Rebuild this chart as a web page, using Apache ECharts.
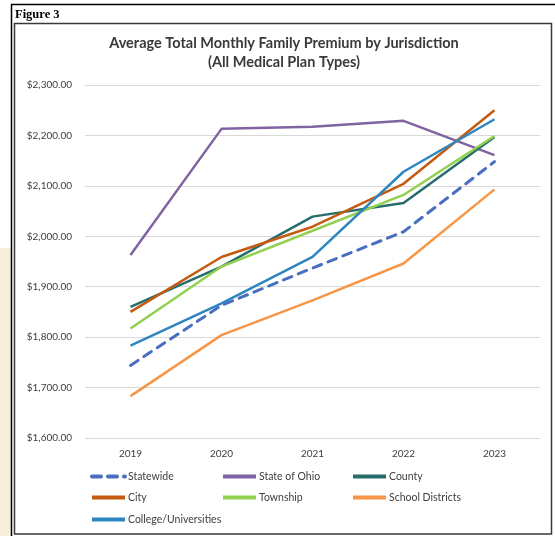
<!DOCTYPE html>
<html>
<head>
<meta charset="utf-8">
<title>Average Total Monthly Family Premium by Jurisdiction</title>
<script src="https://cdn.jsdelivr.net/npm/echarts@6/dist/echarts.min.js"></script>
<style>
  html, body { margin: 0; padding: 0; background: #ffffff; }
  #chart { width: 555px; height: 536px; }
</style>
</head>
<body>
<div id="chart"></div>
<script>
// Plan years on the category axis
const years = ['2019', '2020', '2021', '2022', '2023'];

// Average total monthly family premium by jurisdiction (USD)
const statewide        = [1744, 1863, 1937, 2009, 2148];
const stateOfOhio      = [1963, 2213, 2217, 2229, 2161];
const county           = [1860, 1940, 2039, 2066, 2197];
const city             = [1850, 1959, 2019, 2104, 2250];
const township         = [1817, 1940, 2011, 2082, 2199];
const schoolDistricts  = [1683, 1804, 1873, 1946, 2093];
const colleges         = [1783, 1867, 1959, 2128, 2232];

// Value axis ticks
const yMin = 1600, yMax = 2300, yStep = 100;

const seriesDefs = [
  { name: 'Statewide',            data: statewide,       color: '#4a6fc0', dashed: true },
  { name: 'State of Ohio',        data: stateOfOhio,     color: '#8064a2' },
  { name: 'County',               data: county,          color: '#276d6b' },
  { name: 'City',                 data: city,            color: '#c55a11' },
  { name: 'Township',             data: township,        color: '#92d050' },
  { name: 'School Districts',     data: schoolDistricts, color: '#f79646' },
  { name: 'College/Universities', data: colleges,        color: '#2e86c1' }
];

const FONT = 'Lato, "Open Sans", sans-serif';

const money = v => '$' + v.toLocaleString('en-US', { minimumFractionDigits: 2, maximumFractionDigits: 2 });

// Legend slots laid out in three columns
const legendSlots = [
  [90, 471], [221, 471], [351, 471],
  [90, 492], [221, 492], [351, 492],
  [90, 514]
];

const legends = seriesDefs.map((s, i) => ({
  data: [s.name],
  left: legendSlots[i][0],
  top: legendSlots[i][1],
  padding: 0,
  itemWidth: 33,
  itemHeight: 12,
  itemGap: 0,
  selectedMode: false,
  textStyle: { fontFamily: FONT, fontSize: 10.5, color: '#404040', padding: [0, 0, 0, -2] },
  lineStyle: { width: 4, cap: s.dashed ? 'round' : 'butt' },
  itemStyle: { opacity: 0 }
}));

const chart = echarts.init(document.getElementById('chart'), null, { renderer: 'canvas' });

chart.setOption({
  animation: false,
  backgroundColor: '#ffffff',
  title: {
    text: 'Average Total Monthly Family Premium by Jurisdiction\n(All Medical Plan Types)',
    left: 284,
    textAlign: 'center',
    top: 34,
    padding: 0,
    textStyle: {
      fontFamily: FONT,
      fontWeight: 'bold',
      fontSize: 14.5,
      lineHeight: 19,
      color: '#3a3a3a'
    }
  },
  legend: legends,
  grid: { left: 85, right: 15, top: 85, bottom: 98 },
  xAxis: {
    type: 'category',
    data: years,
    boundaryGap: true,
    axisLine: { show: false },
    axisTick: { show: false },
    axisLabel: { fontFamily: FONT, fontSize: 10, color: '#404040', margin: 11 }
  },
  yAxis: {
    type: 'value',
    min: yMin,
    max: yMax,
    interval: yStep,
    axisLine: { show: false },
    axisTick: { show: false },
    axisLabel: { fontFamily: FONT, fontSize: 10, color: '#404040', margin: 13, formatter: money },
    splitLine: { lineStyle: { color: '#d9d9d9', width: 1 } }
  },
  series: seriesDefs.map(s => ({
    name: s.name,
    type: 'line',
    data: s.data,
    symbol: 'none',
    color: s.color,
    lineStyle: {
      color: s.color,
      width: s.dashed ? 3 : 2.5,
      type: s.dashed ? [9, 7] : 'solid',
      cap: s.dashed ? 'round' : 'butt',
      join: 'round'
    }
  })),
  graphic: [
    // page margin strip
    { type: 'rect', silent: true, z: -10, shape: { x: 0, y: 248, width: 11, height: 288 }, style: { fill: '#f6eedb' } },
    // figure frame
    { type: 'line', silent: true, shape: { x1: 11, y1: 4.5, x2: 555, y2: 4.5 }, style: { stroke: '#000', lineWidth: 1.5 } },
    { type: 'line', silent: true, shape: { x1: 11.5, y1: 4, x2: 11.5, y2: 536 }, style: { stroke: '#000', lineWidth: 1.5 } },
    { type: 'text', silent: true, left: 15, top: 8,
      style: { text: 'Figure 3', font: 'bold 12.5px "Liberation Serif", "DejaVu Serif", serif', fill: '#000' } },
    // chart area border
    { type: 'rect', silent: true, shape: { x: 14.5, y: 23.5, width: 537, height: 510.5 },
      style: { fill: null, stroke: '#3a3a3a', lineWidth: 1.5 } }
  ]
});
</script>
</body>
</html>
